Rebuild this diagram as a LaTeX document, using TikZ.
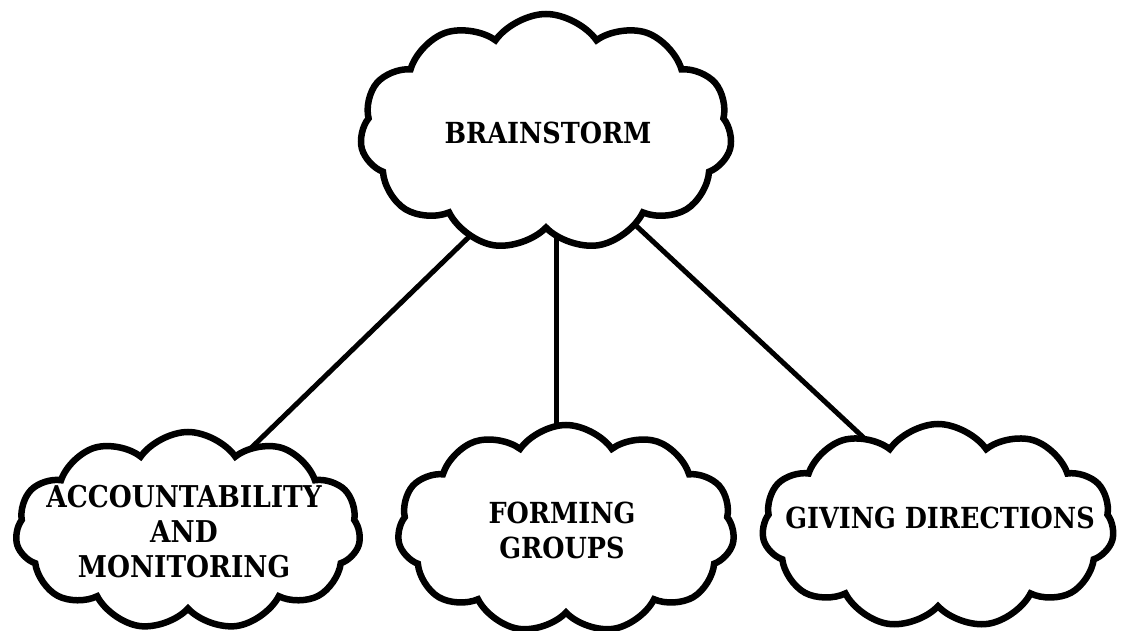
\documentclass[tikz,border=0pt]{standalone}
\usepackage{fontspec}
\setmainfont{DejaVu Serif}
\newfontfamily\slabface[FakeStretch=0.88]{DejaVu Serif}
\usetikzlibrary{shapes.symbols,backgrounds}
\begin{document}
\begin{tikzpicture}[x=1pt,y=-1pt,
  idea/.style={cloud, draw=black, fill=white, line width=6.5pt,
    cloud puffs=11, cloud puff arc=110, cloud ignores aspect, inner sep=0pt},
  word/.style={align=center, inner sep=0pt,
    font=\slabface\bfseries\fontsize{29}{35}\selectfont},
  link/.style={line width=5pt}]
  \useasboundingbox (0,0) rectangle (1129,631);

  % clouds
  \node[idea, minimum width=372pt, minimum height=236pt] (brain) at (546,132) {};
  \node[idea, minimum width=345pt, minimum height=198pt] (acc) at (188,531) {};
  \node[idea, minimum width=337pt, minimum height=208pt] (form) at (566,529) {};
  \node[idea, minimum width=352pt, minimum height=204pt] (give) at (938,526) {};

  % labels
  \node[word] (tbrain) at (548,133) {BRAINSTORM};
  \node[word, font=\slabface\bfseries\fontsize{30}{35}\selectfont] (tacc) at (184,532)
    {ACCOUNTABILITY\\AND\\MONITORING};
  \node[word] (tform) at (562,530) {FORMING\\GROUPS};
  \node[word] (tgive) at (940,518) {GIVING DIRECTIONS};

  % link ends, tucked just inside each cloud
  \coordinate (b1) at ([shift={(-72,100)}]brain.center);
  \coordinate (b2) at ([shift={(10,98)}]brain.center);
  \coordinate (b3) at ([shift={(85,89)}]brain.center);
  \coordinate (a1) at ([shift={(60,-80)}]acc.center);
  \coordinate (f1) at ([shift={(-10,-88)}]form.center);
  \coordinate (g1) at ([shift={(-59,-74)}]give.center);

  % white page and links, behind the clouds
  \begin{scope}[on background layer]
    \fill[white] (0,0) rectangle (1129,631);
    \draw[link] (b1) -- (a1);
    \draw[link] (b2) -- (f1);
    \draw[link] (b3) -- (g1);
  \end{scope}
\end{tikzpicture}
\end{document}
